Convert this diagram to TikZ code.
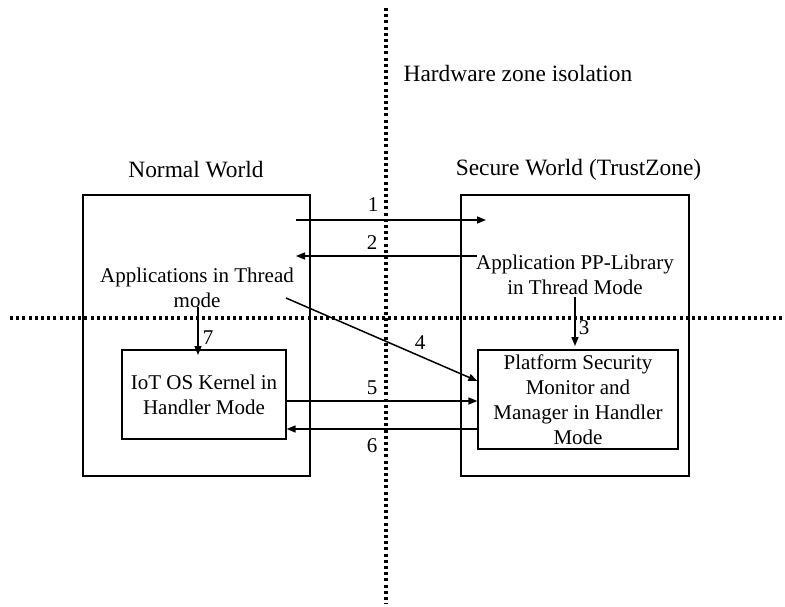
\documentclass[tikz,border=0pt]{standalone}
\usepackage{fontspec}
\setmainfont{Liberation Serif}
\usetikzlibrary{arrows.meta}
\begin{document}
\begin{tikzpicture}[x=1pt,y=-1pt,
  txt/.style={font=\fontsize{21}{25}\selectfont, align=center, inner sep=0pt},
  ttl/.style={font=\fontsize{23.4}{27}\selectfont, align=center, inner sep=0pt},
  num/.style={font=\fontsize{21}{25}\selectfont, inner sep=0pt},
  box/.style={draw, line width=1.2pt, inner sep=0pt},
  zone/.style={line width=3.2pt, dash pattern=on 3pt off 3.2pt},
  arr/.style={line width=1.5pt, -{Triangle[length=9pt,width=7pt]}}
]
\useasboundingbox (0,0) rectangle (785,607);
% isolation lines
\coordinate (vt) at (386,8);
\coordinate (vb) at (386,604);
\coordinate (hl) at (10,318);
\coordinate (hr) at (785,318);
\draw[zone] (vt) -- (vb);
\draw[zone] (hl) -- (hr);
% titles
\node[ttl] (hw) at (518,73) {Hardware zone isolation};
\node[ttl] (normal) at (196,170) {Normal World};
\node[ttl] (secure) at (578.5,170) {Secure World (TrustZone)};
% boxes
\node[box, minimum width=227pt, minimum height=281pt] (outerL) at (196.5,335.5) {};
\node[box, minimum width=228pt, minimum height=281pt] (outerR) at (575,335.5) {};
\node[box, fill=white, minimum width=164pt, minimum height=89pt, txt, draw, line width=1.2pt] (innerL) at (204,394.5) {IoT OS Kernel in\\Handler Mode};
\node[box, fill=white, minimum width=200pt, minimum height=99pt, txt, draw, line width=1.2pt] (innerR) at (578,399.5) {Platform Security\\Monitor and\\Manager in Handler\\Mode};
% text nodes
\node[txt] (apps) at (197,288) {Applications in Thread\\mode};
\node[txt] (pplib) at (575,275) {Application PP-Library\\in Thread Mode};
% arrow end points
\coordinate (a1s) at (296,220);
\coordinate (a1e) at (486,220);
\coordinate (a2s) at (477,256);
\coordinate (a2e) at (296,256);
\coordinate (a3s) at (575,297);
\coordinate (a3e) at (575,346);
\coordinate (a7s) at (198,307);
\coordinate (a7e) at (198,355);
\coordinate (a4s) at (286,298);
\coordinate (a5s) at (286,401);
\coordinate (a5e) at (innerR.west |- a5s);
\coordinate (a6s) at (innerR.west |- 0,429);
\coordinate (a6e) at (innerL.east |- a6s);
\draw[arr] (a1s) -- (a1e);
\draw[arr] (a2s) -- (a2e);
\draw[arr] (a3s) -- (a3e);
\draw[arr] (a7s) -- (a7e);
\draw[arr] (a4s) -- (innerR.west |- 0,381);
\draw[arr] (a5s) -- (a5e);
\draw[arr] (a6s) -- (a6e);
% labels
\node[num] (n1) at (373,205) {1};
\node[num] (n2) at (372,243) {2};
\node[num] (n3) at (584,328) {3};
\node[num] (n4) at (420,343) {4};
\node[num] (n5) at (372,388) {5};
\node[num] (n6) at (372,446) {6};
\node[num] (n7) at (208,338) {7};
\end{tikzpicture}
\end{document}
